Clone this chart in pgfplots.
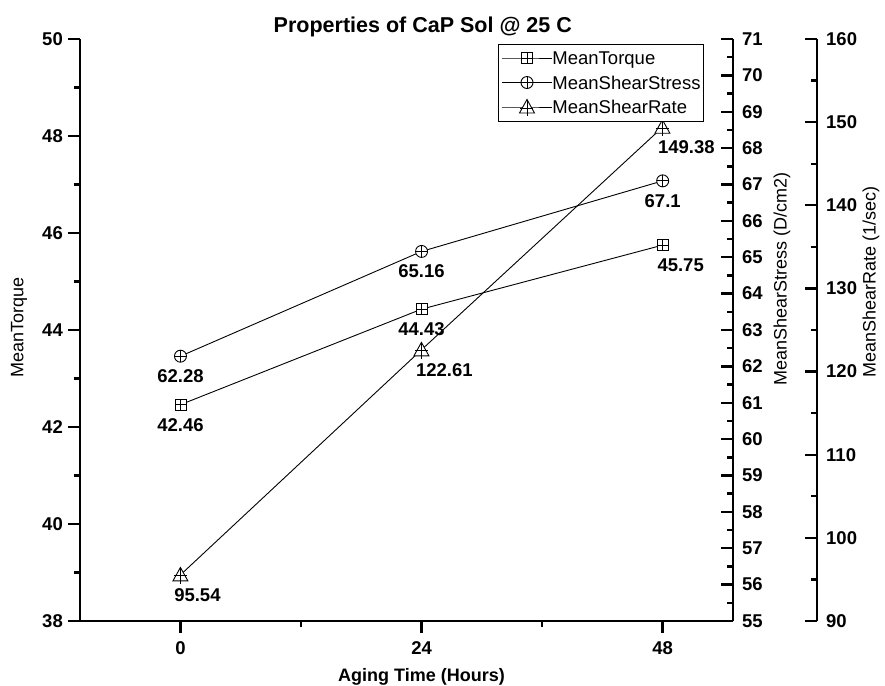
\documentclass[border=0pt]{standalone}
\usepackage{fontspec}
\setmainfont{Liberation Sans}
\usepackage{pgfplots}
\usepackage{pgfplotstable}
\pgfplotsset{compat=1.18}

\newcommand\tickfont{\fontsize{18.5bp}{20bp}\selectfont\bfseries}
\newcommand\labelfont{\fontsize{18bp}{20bp}\selectfont}
\newcommand\legendfont{\fontsize{18.5bp}{20bp}\selectfont}
\newcommand\titlefont{\fontsize{21.5bp}{23bp}\selectfont\bfseries}

% open-centre marks with a cross, as used by the three series
\pgfdeclareplotmark{boxcross}{%
  \pgfpathrectangle{\pgfpoint{-5.5bp}{-5.5bp}}{\pgfpoint{11bp}{11bp}}%
  \pgfusepathqfillstroke
  \pgfpathmoveto{\pgfpoint{-5.5bp}{0bp}}\pgfpathlineto{\pgfpoint{5.5bp}{0bp}}%
  \pgfpathmoveto{\pgfpoint{0bp}{-5.5bp}}\pgfpathlineto{\pgfpoint{0bp}{5.5bp}}%
  \pgfusepathqstroke}
\pgfdeclareplotmark{circcross}{%
  \pgfpathcircle{\pgfpointorigin}{6bp}%
  \pgfusepathqfillstroke
  \pgfpathmoveto{\pgfpoint{-6bp}{0bp}}\pgfpathlineto{\pgfpoint{6bp}{0bp}}%
  \pgfpathmoveto{\pgfpoint{0bp}{-6bp}}\pgfpathlineto{\pgfpoint{0bp}{6bp}}%
  \pgfusepathqstroke}
\pgfdeclareplotmark{tricross}{%
  \pgfpathmoveto{\pgfpoint{0bp}{7.5bp}}%
  \pgfpathlineto{\pgfpoint{-7.5bp}{-6bp}}%
  \pgfpathlineto{\pgfpoint{7.5bp}{-6bp}}%
  \pgfpathclose
  \pgfusepathqfillstroke
  \pgfpathmoveto{\pgfpoint{-6.5bp}{-1bp}}\pgfpathlineto{\pgfpoint{6.5bp}{-1bp}}%
  \pgfpathmoveto{\pgfpoint{0bp}{7.5bp}}\pgfpathlineto{\pgfpoint{0bp}{-9bp}}%
  \pgfusepathqstroke}

\pgfplotstableread{
hours value dx
0  42.46 0
24 44.43 0
48 45.75 18
}\torquedata
\pgfplotstableread{
hours value dx
0  62.28 0
24 65.16 0
48 67.1  0
}\stressdata
\pgfplotstableread{
hours value dx
0  95.54  17
24 122.61 23
48 149.38 24
}\ratedata

\pgfplotsset{
  common/.style={
    scale only axis, height=582bp, at={(80bp,65bp)}, anchor=south west,
    clip=false,
    axis line style={line width=2.4bp, black},
    every tick/.style={black, line width=2.4bp},
    major tick length=12bp, minor tick length=6bp,
    tick label style={font=\tickfont},
    /pgf/number format/assume math mode=true,
    label style={font=\labelfont},
  },
  series/.style={
    black, line width=0.9bp, mark options={fill=white, solid},
    visualization depends on={\thisrow{dx} \as \dx},
    nodes near coords, point meta=explicit symbolic,
    nodes near coords style={anchor=north, inner sep=0pt, yshift=-13bp,
      xshift=\dx bp, font=\tickfont},
  },
}

\begin{document}
\begin{tikzpicture}
\useasboundingbox (0,0) rectangle (885bp,686bp);

% MeanTorque on the left axis
\begin{axis}[common, width=653bp,
  xmin=-10, xmax=55, ymin=38, ymax=50,
  axis x line*=bottom, axis y line*=left, tick align=outside,
  xtick={0,24,48}, minor x tick num=1,
  ytick={38,40,...,50}, minor y tick num=1,
  yticklabel style={anchor=east, inner sep=0pt, xshift=-5bp},
  xticklabel style={anchor=north, inner sep=0pt, yshift=-8bp},
  xlabel={\bfseries\fontsize{18bp}{20bp}\selectfont Aging Time (Hours)},
  xlabel style={at={(axis description cs:0.523,-0.104)}, anchor=base},
  ylabel={MeanTorque},
  ylabel style={at={(axis description cs:-0.0934,0.505)}, anchor=center},
  title={Properties of CaP Sol @ 25 C},
  title style={font=\titlefont, at={(axis description cs:0.525,1.0006)}, anchor=base},
]
\addplot[series, mark=boxcross] table[x=hours, y=value, meta=value] {\torquedata};
\end{axis}

% MeanShearStress on the first right axis
\begin{axis}[common, width=653bp,
  xmin=-10, xmax=55, ymin=55, ymax=71,
  axis x line=none, xtick=\empty,
  axis y line*=right, tick align=inside,
  ytick={55,...,71}, minor y tick num=1,
  yticklabel style={anchor=west, inner sep=0pt, xshift=9bp},
  ylabel={MeanShearStress (D/cm2)},
  ylabel style={at={(axis description cs:1.075,0.588)}, anchor=center, rotate=0},
]
\addplot[series, mark=circcross] table[x=hours, y=value, meta=value] {\stressdata};
\end{axis}

% MeanShearRate on the outer right axis
\begin{axis}[common, width=737bp,
  xmin=-10, xmax=63.394, ymin=90, ymax=160,
  axis x line=none, xtick=\empty,
  axis y line*=right, tick align=inside,
  ytick={90,100,...,160}, minor y tick num=1,
  yticklabel style={anchor=west, inner sep=0pt, xshift=9bp},
  ylabel={MeanShearRate (1/sec)},
  ylabel style={at={(axis description cs:1.0733,0.582)}, anchor=center, rotate=0},
  legend cell align=left,
  legend style={at={(axis description cs:0.8467,0.9914)}, anchor=north east,
    draw=black, line width=1bp, font=\legendfont,
    inner xsep=3bp, inner ysep=5bp, row sep=7.5bp,
    nodes={inner sep=0pt, text height=15bp, text depth=2bp},
    /tikz/every even column/.append style={column sep=2bp}},
  legend image code/.code={%
    \draw[mark repeat=2, mark phase=2, #1]
      plot coordinates {(0bp,0bp) (25bp,0bp) (50bp,0bp)};},
]
\addlegendimage{black, line width=0.9bp, mark=boxcross, mark options={fill=white, solid}}
\addlegendentry{MeanTorque}
\addlegendimage{black, line width=0.9bp, mark=circcross, mark options={fill=white, solid}}
\addlegendentry{MeanShearStress}
\addplot[series, mark=tricross] table[x=hours, y=value, meta=value] {\ratedata};
\addlegendentry{MeanShearRate}
\end{axis}
\end{tikzpicture}
\end{document}
